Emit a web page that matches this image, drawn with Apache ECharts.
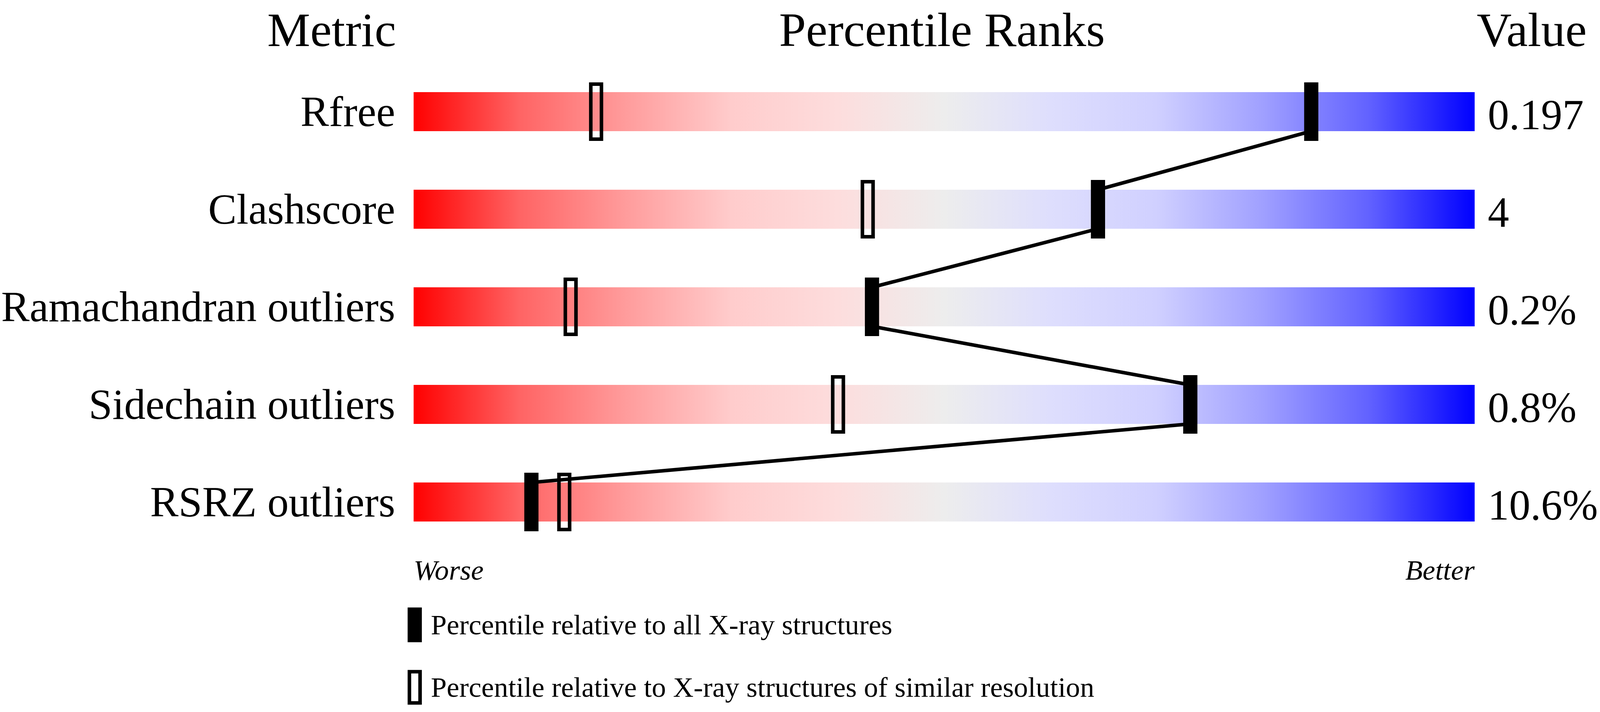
<!DOCTYPE html>
<html lang="en">
<head>
    <meta charset="utf-8" />
    <title>Percentile Ranks</title>
    <script src="https://cdn.jsdelivr.net/npm/echarts@6/dist/echarts.min.js"></script>
    <style>
        html, body {
            margin: 0;
            padding: 0;
            background: #FFFFFF;
            overflow: hidden;
        }

        #main {
            width: 100vw;
            height: 100vh;
        }
    </style>
</head>
<body>
<div id="main"></div>
<script type="text/javascript">
    // Data
    const metrics = ['Rfree', 'Clashscore', 'Ramachandran outliers', 'Sidechain outliers', 'RSRZ outliers'];
    const valueLabels = ['0.197', '4', '0.2%', '0.8%', '10.6%'];
    const pctAll = [84.6, 64.5, 43.2, 73.2, 11.1];
    const pctSimilar = [17.2, 42.8, 14.8, 40.0, 14.2];
    const axisEnds = ['Worse', 'Better'];
    const legendNames = [
        'Percentile relative to all X-ray structures',
        'Percentile relative to X-ray structures of similar resolution'
    ];

    const serif = 'Liberation Serif';

    // layout was measured on a 4506 x 1824 picture, scale to the real viewport
    const SX = window.innerWidth / 4506;
    const SY = window.innerHeight / 1824;
    const px = v => v * SX;   // horizontal sizes and fonts
    const py = v => v * SY;   // vertical sizes

    var myChart = echarts.init(document.getElementById('main'), null, {renderer: 'svg'});

    // red -> grey -> blue ramp of every bar
    const barGradient = new echarts.graphic.LinearGradient(0, 0, 1, 0, [
        {offset: 0, color: '#ff0000'},
        {offset: 0.1, color: '#ff6464'},
        {offset: 0.2, color: '#ff9c9c'},
        {offset: 0.3, color: '#ffcccc'},
        {offset: 0.4, color: '#fddddd'},
        {offset: 0.5, color: '#ededed'},
        {offset: 0.6, color: '#dedefd'},
        {offset: 0.7, color: '#d0d0ff'},
        {offset: 0.8, color: '#a0a0ff'},
        {offset: 0.9, color: '#6262ff'},
        {offset: 1, color: '#0000ff'}
    ]);

    // segments between consecutive "all structures" markers
    const links = [];
    for (let i = 0; i < pctAll.length - 1; i++) {
        links.push([pctAll[i], i, pctAll[i + 1], i + 1]);
    }

    const BAR_H = py(100);
    const MARK_W = px(40);
    const MARK_H = py(150);
    const EDGE = px(10);

    const titleFont = px(136) + 'px "Liberation Serif"';
    const legendFs = px(80);
    const legendShift = py(14);

    // one legend box per entry, icon outer top edges measured at 1562 and 1722
    function legendBox(idx, outerTop, fill) {
        const ih = py(80);
        const rectTop = py(outerTop) + EDGE / 2;
        const textTop = ih / 2 - (legendFs + 2 * legendShift) / 2;
        const contentTop = Math.min(-EDGE / 2, textTop);
        return {
            data: [{name: legendNames[idx], icon: 'rect', itemStyle: {color: fill, borderColor: '#000', borderWidth: EDGE}}],
            orient: 'vertical',
            left: px(1148),
            top: rectTop + contentTop,
            padding: 0,
            itemWidth: px(30),
            itemHeight: ih,
            selectedMode: false,
            textStyle: {
                fontFamily: serif,
                fontSize: legendFs,
                color: '#000',
                padding: [2 * legendShift, 0, 0, px(25)]
            }
        };
    }

    var option = {
        animation: false,
        backgroundColor: '#FFFFFF',
        grid: {
            left: px(1153),
            right: px(353),
            top: py(161),
            bottom: py(413)
        },
        xAxis: {
            type: 'value',
            min: 0,
            max: 100,
            interval: 100,
            axisLine: {show: false},
            axisTick: {show: false},
            splitLine: {show: false},
            axisLabel: {
                margin: py(1460) - px(40) - py(1411),
                fontFamily: serif,
                fontStyle: 'italic',
                fontSize: px(80),
                color: '#000',
                alignMinLabel: 'left',
                alignMaxLabel: 'right',
                formatter: function (v) {
                    return v === 0 ? axisEnds[0] : axisEnds[1];
                }
            }
        },
        yAxis: {
            type: 'category',
            data: metrics,
            inverse: true,
            axisLine: {show: false},
            axisTick: {show: false},
            splitLine: {show: false},
            axisLabel: {
                margin: px(52),
                fontFamily: serif,
                fontSize: px(120),
                color: '#000',
                padding: [py(20), 0, 0, 0]
            }
        },
        legend: [
            legendBox(0, 1562, '#000'),
            legendBox(1, 1722, 'rgba(0,0,0,0)')
        ],
        graphic: [
            {type: 'text', x: px(934), y: py(76), style: {text: 'Metric', font: titleFont, fill: '#000', align: 'center', verticalAlign: 'middle'}},
            {type: 'text', x: px(2653), y: py(76), style: {text: 'Percentile Ranks', font: titleFont, fill: '#000', align: 'center', verticalAlign: 'middle'}},
            {type: 'text', x: px(4159), y: py(76), style: {text: 'Value', font: titleFont, fill: '#000', align: 'left', verticalAlign: 'middle'}}
        ],
        series: [
            {
                name: 'range',
                type: 'bar',
                silent: true,
                barWidth: BAR_H,
                data: metrics.map(function () { return 100; }),
                itemStyle: {color: barGradient},
                label: {
                    show: true,
                    position: 'right',
                    distance: px(37),
                    offset: [0, py(8)],
                    fontFamily: serif,
                    fontSize: px(120),
                    color: '#000',
                    formatter: function (p) {
                        return valueLabels[p.dataIndex];
                    }
                },
                z: 1
            },
            {
                name: 'link',
                type: 'custom',
                silent: true,
                data: links,
                encode: {x: [0, 2], y: [1, 3]},
                renderItem: function (params, api) {
                    const a = api.coord([api.value(0), api.value(1)]);
                    const b = api.coord([api.value(2), api.value(3)]);
                    return {
                        type: 'line',
                        shape: {x1: a[0], y1: a[1] + BAR_H / 2, x2: b[0], y2: b[1] - BAR_H / 2},
                        style: {stroke: '#000', lineWidth: EDGE}
                    };
                },
                z: 2
            },
            {
                name: legendNames[1],
                type: 'custom',
                silent: true,
                data: pctSimilar.map(function (v, i) { return [v, i]; }),
                encode: {x: 0, y: 1},
                itemStyle: {color: '#000'},
                renderItem: function (params, api) {
                    const p = api.coord([api.value(0), api.value(1)]);
                    return {
                        type: 'rect',
                        shape: {
                            x: p[0] - MARK_W / 2 + EDGE / 2,
                            y: p[1] - MARK_H / 2 + EDGE / 2,
                            width: MARK_W - EDGE,
                            height: MARK_H - EDGE
                        },
                        style: {fill: 'none', stroke: '#000', lineWidth: EDGE}
                    };
                },
                z: 3
            },
            {
                name: legendNames[0],
                type: 'custom',
                silent: true,
                data: pctAll.map(function (v, i) { return [v, i]; }),
                encode: {x: 0, y: 1},
                itemStyle: {color: '#000'},
                renderItem: function (params, api) {
                    const p = api.coord([api.value(0), api.value(1)]);
                    return {
                        type: 'rect',
                        shape: {x: p[0] - MARK_W / 2, y: p[1] - MARK_H / 2, width: MARK_W, height: MARK_H},
                        style: {fill: '#000'}
                    };
                },
                z: 4
            }
        ]
    };

    myChart.setOption(option);
</script>
</body>
</html>
